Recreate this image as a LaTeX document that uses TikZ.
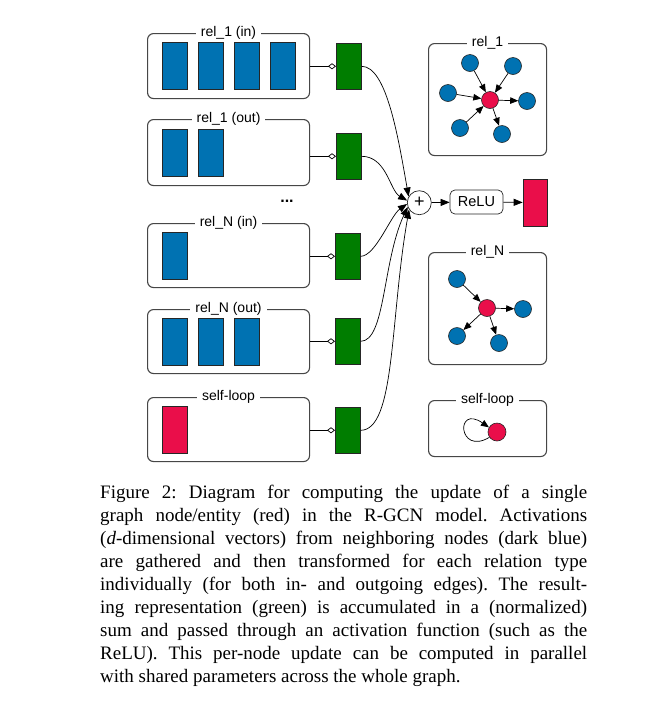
\documentclass[tikz,border=0pt]{standalone}
\usepackage{fontspec}
\setmainfont{Liberation Serif}
\setsansfont{Liberation Sans}
\usetikzlibrary{arrows.meta}
\definecolor{cblue}{RGB}{0,114,178}
\definecolor{cgreen}{RGB}{0,125,0}
\definecolor{cred}{RGB}{234,14,74}
\definecolor{cframe}{RGB}{70,70,70}
\begin{document}
\begin{tikzpicture}[x=1pt,y=1pt,
  grp/.style={draw=cframe, line width=1.1pt, rounded corners=6pt, anchor=north west, inner sep=0pt},
  lbl/.style={fill=white, font=\sffamily\fontsize{14}{16}\selectfont, inner xsep=5pt, inner ysep=1pt},
  vec/.style={draw=black!85, line width=0.6pt, minimum width=25pt, minimum height=47pt, inner sep=0pt, anchor=north west},
  bvec/.style={vec, fill=cblue},
  rvec/.style={vec, fill=cred},
  gvec/.style={vec, fill=cgreen, minimum height=46pt},
  conn/.style={line width=0.7pt, -{Diamond[open, length=8pt, width=6pt]}},
  arr/.style={line width=0.7pt, -{Triangle[length=9pt, width=7pt]}},
  garr/.style={line width=0.7pt, -{Triangle[length=8pt, width=6.5pt]}},
  gnode/.style={circle, draw=black!85, line width=0.6pt, minimum size=17pt, inner sep=0pt},
  bn/.style={gnode, fill=cblue},
  rn/.style={gnode, fill=cred}
]
\useasboundingbox (0,0) rectangle (653,-705);

% ---------- left boxes ----------
\node[grp, minimum width=162pt, minimum height=65pt] (B1) at (147,-33) {};
\node[grp, minimum width=162pt, minimum height=66pt] (B2) at (147,-119) {};
\node[grp, minimum width=162pt, minimum height=64pt] (B3) at (147,-223) {};
\node[grp, minimum width=162pt, minimum height=64pt] (B4) at (147,-309) {};
\node[grp, minimum width=162pt, minimum height=64pt] (B5) at (147,-397) {};

\node[lbl] (L1) at (B1.north) {rel\_1 (in)};
\node[lbl] (L2) at (B2.north) {rel\_1 (out)};
\node[lbl] (L3) at (B3.north) {rel\_N (in)};
\node[lbl] (L4) at (B4.north) {rel\_N (out)};
\node[lbl] (L5) at (B5.north) {self-loop};

\node[font=\sffamily\bfseries\fontsize{16}{16}\selectfont] (dots) at (287,-201) {...};

% vectors
\node[bvec] (v11) at (162,-42) {};
\node[bvec] (v12) at (198,-42) {};
\node[bvec] (v13) at (234,-42) {};
\node[bvec] (v14) at (270,-42) {};
\node[bvec] (v21) at (162,-129) {};
\node[bvec] (v22) at (198,-129) {};
\node[bvec] (v31) at (162,-232) {};
\node[bvec] (v41) at (162,-318) {};
\node[bvec] (v42) at (198,-318) {};
\node[bvec] (v43) at (234,-318) {};
\node[rvec] (v51) at (162,-406) {};

% green vectors
\node[gvec] (g1) at (336,-43) {};
\node[gvec] (g2) at (336,-133) {};
\node[gvec] (g3) at (335,-233) {};
\node[gvec] (g4) at (335,-318) {};
\node[gvec] (g5) at (335,-407) {};

\draw[conn] (B1.east |- g1.west) -- (g1.west);
\draw[conn] (B2.east |- g2.west) -- (g2.west);
\draw[conn] (B3.east |- g3.west) -- (g3.west);
\draw[conn] (B4.east |- g4.west) -- (g4.west);
\draw[conn] (B5.east |- g5.west) -- (g5.west);

% sum, relu, output
\node[circle, draw=black!85, line width=0.7pt, minimum size=24pt, inner sep=0pt,
      font=\sffamily\fontsize{18}{18}\selectfont] (plus) at (419.3,-202.7) {+};
\node[draw=black!85, line width=0.7pt, rounded corners=5pt, minimum width=53pt, minimum height=24pt,
      inner sep=0pt, font=\sffamily\fontsize{14.5}{16}\selectfont] (relu) at (476.5,-202) {ReLU};
\node[rvec, minimum width=24pt, anchor=center] (out) at (535,-202.5) {};

\draw[arr] (g1.east) to[out=0, in=100, out distance=25pt, in distance=60pt] (plus.150);
\draw[arr] (g2.east) to[out=0, in=150, out distance=25pt, in distance=20pt] (plus.170);
\draw[arr] (g3.east) to[out=0, in=215, out distance=15pt, in distance=20pt] (plus.186);
\draw[arr] (g4.east) to[out=0, in=245, out distance=25pt, in distance=60pt] (plus.200);
\draw[arr] (g5.east) to[out=0, in=260, out distance=35pt, in distance=110pt] (plus.214);

\draw[arr] (plus) -- (relu);
\draw[arr] (relu) -- (out);

% ---------- right boxes ----------
\node[grp, minimum width=118pt, minimum height=112pt] (R1) at (428,-43) {};
\node[grp, minimum width=118pt, minimum height=112pt] (RN) at (428,-252) {};
\node[grp, minimum width=118pt, minimum height=56pt] (RS) at (428,-400) {};
\node[lbl] (LR1) at (R1.north) {rel\_1};
\node[lbl] (LRN) at (RN.north) {rel\_N};
\node[lbl] (LRS) at (RS.north) {self-loop};

% rel_1 graph
\node[rn] (c1) at (490,-100) {};
\node[bn] (a1) at (470,-63) {};
\node[bn] (a2) at (513,-66) {};
\node[bn] (a3) at (448,-93) {};
\node[bn] (a4) at (527,-101) {};
\node[bn] (a5) at (460,-128) {};
\node[bn] (a6) at (502,-134) {};
\draw[garr] (a1) -- (c1);
\draw[garr] (a2) -- (c1);
\draw[garr] (a3) -- (c1);
\draw[garr] (c1) -- (a4);
\draw[garr] (a5) -- (c1);
\draw[garr] (c1) -- (a6);

% rel_N graph
\node[rn] (c2) at (487,-308) {};
\node[bn] (n1) at (457,-279) {};
\node[bn] (n2) at (523,-309) {};
\node[bn] (n3) at (457,-336) {};
\node[bn] (n4) at (499,-343) {};
\draw[garr] (n1) -- (c2);
\draw[garr] (c2) -- (n2);
\draw[garr] (c2) -- (n3);
\draw[garr] (c2) -- (n4);

% self-loop graph
\node[rn, minimum size=18pt] (s1) at (497,-432) {};
\draw[garr] (s1.215) .. controls (458,-456) and (455,-404) .. (s1.150);

% ---------- caption ----------
\node[anchor=base west, inner sep=0pt, text width=487pt, align=justify,
      font=\fontsize{19}{23}\selectfont] (cap) at (100,-498)
{\frenchspacing\hyphenpenalty=10000\exhyphenpenalty=10000\tolerance=10000
Figure 2: Diagram for computing the update of a single\linebreak
graph node/entity (red) in the R-GCN model. Activations\linebreak
(\textit{d}-dimensional vectors) from neighboring nodes (dark blue)\linebreak
are gathered and then transformed for each relation type\linebreak
individually (for both in- and outgoing edges). The result-\linebreak
ing representation (green) is accumulated in a (normalized)\linebreak
sum and passed through an activation function (such as the\linebreak
ReLU). This per-node update can be computed in parallel\linebreak
with shared parameters across the whole graph.};
\end{tikzpicture}
\end{document}
